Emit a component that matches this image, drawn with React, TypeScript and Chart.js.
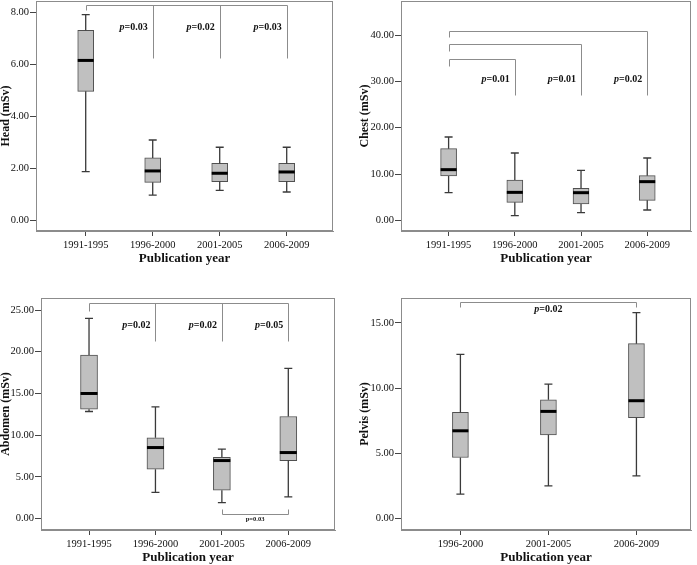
import React, { useEffect, useRef } from "react";
import { Chart, registerables } from "chart.js";

Chart.register(...registerables);

const FONT = "'Liberation Serif', 'Times New Roman', serif";

// ---------- Head ----------
const headCategories = ["1991-1995", "1996-2000", "2001-2005", "2006-2009"];
const headLow = [1.87, 0.97, 1.15, 1.09];
const headQ1 = [4.96, 1.46, 1.49, 1.49];
const headMedian = [6.15, 1.9, 1.81, 1.86];
const headQ3 = [7.31, 2.4, 2.19, 2.19];
const headHigh = [7.91, 3.09, 2.81, 2.81];
const headTicks = [0, 2, 4, 6, 8];
const headSegments: number[][] = [
  [0, 8.28, 3, 8.28],
  [0, 8.28, 0, 8.1],
  [1, 8.28, 1, 6.26],
  [2, 8.28, 2, 6.26],
  [3, 8.28, 3, 6.26],
];
const headPAt = [1, 2, 3];
const headPValues = ["0.03", "0.02", "0.03"];
const headPLevel = 7.41;

// ---------- Chest ----------
const chestCategories = ["1991-1995", "1996-2000", "2001-2005", "2006-2009"];
const chestLow = [5.97, 1.0, 1.65, 2.23];
const chestQ1 = [9.57, 3.88, 3.53, 4.32];
const chestMedian = [10.94, 6.04, 5.97, 8.35];
const chestQ3 = [15.47, 8.71, 6.91, 9.64];
const chestHigh = [17.99, 14.53, 10.79, 13.45];
const chestTicks = [0, 10, 20, 30, 40];
const chestSegments: number[][] = [
  [0, 34.75, 1, 34.75],
  [0, 34.75, 0, 33.35],
  [1, 34.75, 1, 27.05],
  [0, 38.0, 2, 38.0],
  [0, 38.0, 0, 36.6],
  [2, 38.0, 2, 27.05],
  [0, 40.9, 3, 40.9],
  [0, 40.9, 0, 39.5],
  [3, 40.9, 3, 27.05],
];
const chestPAt = [1, 2, 3];
const chestPValues = ["0.01", "0.01", "0.02"];
const chestPLevel = 30.5;

// ---------- Abdomen ----------
const abdomenCategories = ["1991-1995", "1996-2000", "2001-2005", "2006-2009"];
const abdomenLow = [12.84, 3.16, 1.92, 2.6];
const abdomenQ1 = [13.12, 5.92, 3.4, 6.96];
const abdomenMedian = [15.0, 8.52, 6.96, 7.92];
const abdomenQ3 = [19.6, 9.68, 7.36, 12.24];
const abdomenHigh = [24.0, 13.4, 8.32, 18.0];
const abdomenTicks = [0, 5, 10, 15, 20, 25];
const abdomenSegments: number[][] = [
  [0, 25.84, 3, 25.84],
  [0, 25.84, 0, 24.84],
  [1, 25.84, 1, 21.32],
  [2, 25.84, 2, 21.32],
  [3, 25.84, 3, 21.32],
  [2, 0.6, 3, 0.6],
  [2, 0.6, 2, 1.2],
  [3, 0.6, 3, 1.2],
];
const abdomenPAt = [1, 2, 3];
const abdomenPValues = ["0.02", "0.02", "0.05"];
const abdomenPLevel = 23.17;
const abdomenSmallLabel = { x: 2.5, y: -0.07, text: "p=0.03" };

// ---------- Pelvis ----------
const pelvisCategories = ["1996-2000", "2001-2005", "2006-2009"];
const pelvisLow = [1.85, 2.49, 3.26];
const pelvisQ1 = [4.67, 6.41, 7.72];
const pelvisMedian = [6.72, 8.21, 9.03];
const pelvisQ3 = [8.13, 9.1, 13.41];
const pelvisHigh = [12.59, 10.31, 15.79];
const pelvisTicks = [0, 5, 10, 15];
const pelvisSegments: number[][] = [
  [0, 16.64, 2, 16.64],
  [0, 16.64, 0, 16.23],
  [2, 16.64, 2, 16.23],
];
const pelvisPCenterAt = 1;
const pelvisPValue = "0.02";
const pelvisPLevel = 16.02;

function drawPLabel(ctx: CanvasRenderingContext2D, x: number, y: number, value: string, align: string, size: number) {
  const it = `italic bold ${size}px ${FONT}`;
  const bd = `bold ${size}px ${FONT}`;
  ctx.font = it;
  const wp = ctx.measureText("p").width;
  ctx.font = bd;
  const rest = "=" + value;
  const wr = ctx.measureText(rest).width;
  const total = wp + wr;
  const sx = align === "right" ? x - total : x - total / 2;
  ctx.textBaseline = "middle";
  ctx.textAlign = "left";
  ctx.fillStyle = "#111";
  ctx.font = it;
  ctx.fillText("p", sx, y);
  ctx.font = bd;
  ctx.fillText(rest, sx + wp, y);
}

type PanelProps = {
  left: number;
  top: number;
  width: number;
  height: number;
  yAxisWidth: number;
  padRight: number;
  padTop: number;
  yTitlePad: number;
  boxWidth: number;
  xMin: number;
  xMax: number;
  yMin: number;
  yMax: number;
  yTitle: string;
  categories: string[];
  low: number[];
  q1: number[];
  median: number[];
  q3: number[];
  high: number[];
  yTicks: number[];
  segments: number[][];
  pAt: number[];
  pValues: string[];
  pLevel: number;
  pAlign: string;
  smallLabel?: { x: number; y: number; text: string };
};

function BoxPanel(p: PanelProps) {
  const ref = useRef<HTMLCanvasElement>(null);
  useEffect(() => {
    const canvas = ref.current!;
    const framePlugin = {
      id: "frame",
      afterDraw(chart: any) {
        const { ctx, chartArea } = chart;
        ctx.save();
        ctx.strokeStyle = "#8c8c8c";
        ctx.lineWidth = 1;
        const l = Math.round(chartArea.left) + 0.5;
        const t = Math.round(chartArea.top) + 0.5;
        const r = Math.round(chartArea.right) - 0.5;
        const b = Math.round(chartArea.bottom) - 0.5;
        ctx.strokeRect(l, t, r - l, b - t);
        ctx.restore();
      },
    };
    const boxPlugin = {
      id: "boxWhiskers",
      afterDatasetsDraw(chart: any) {
        const ctx: CanvasRenderingContext2D = chart.ctx;
        const xs = chart.scales.x;
        const ys = chart.scales.y;
        ctx.save();
        // brackets
        ctx.strokeStyle = "#8c8c8c";
        ctx.lineWidth = 1;
        p.segments.forEach((s) => {
          ctx.beginPath();
          ctx.moveTo(Math.round(xs.getPixelForValue(s[0])) + 0.5, Math.round(ys.getPixelForValue(s[1])) + 0.5);
          ctx.lineTo(Math.round(xs.getPixelForValue(s[2])) + 0.5, Math.round(ys.getPixelForValue(s[3])) + 0.5);
          ctx.stroke();
        });
        // whiskers
        ctx.strokeStyle = "#3a3a3a";
        ctx.lineWidth = 1.3;
        const half = p.boxWidth / 2;
        p.categories.forEach((_, i) => {
          const x = xs.getPixelForValue(i);
          const yl = ys.getPixelForValue(p.low[i]);
          const yq1 = ys.getPixelForValue(p.q1[i]);
          const yq3 = ys.getPixelForValue(p.q3[i]);
          const yh = ys.getPixelForValue(p.high[i]);
          ctx.beginPath();
          ctx.moveTo(x, yh);
          ctx.lineTo(x, yq3);
          ctx.moveTo(x, yq1);
          ctx.lineTo(x, yl);
          ctx.moveTo(x - 4, yh);
          ctx.lineTo(x + 4, yh);
          ctx.moveTo(x - 4, yl);
          ctx.lineTo(x + 4, yl);
          ctx.stroke();
        });
        // medians
        ctx.strokeStyle = "#000";
        ctx.lineWidth = 3;
        p.categories.forEach((_, i) => {
          const x = xs.getPixelForValue(i);
          const ym = ys.getPixelForValue(p.median[i]);
          ctx.beginPath();
          ctx.moveTo(x - half, ym);
          ctx.lineTo(x + half, ym);
          ctx.stroke();
        });
        // p labels
        p.pAt.forEach((at, k) => {
          const x = xs.getPixelForValue(at);
          const y = ys.getPixelForValue(p.pLevel);
          drawPLabel(ctx, p.pAlign === "right" ? x - 5 : x, y, p.pValues[k], p.pAlign, 10);
        });
        if (p.smallLabel) {
          ctx.font = `bold 6.5px ${FONT}`;
          ctx.fillStyle = "#111";
          ctx.textAlign = "center";
          ctx.textBaseline = "middle";
          ctx.fillText(p.smallLabel.text, xs.getPixelForValue(p.smallLabel.x), ys.getPixelForValue(p.smallLabel.y));
        }
        ctx.restore();
      },
    };
    const chart = new Chart(canvas, {
      type: "bar",
      data: {
        datasets: [
          {
            data: p.categories.map((_, i) => ({ x: i, y: [p.q1[i], p.q3[i]] })) as any,
            backgroundColor: "#c0c0c0",
            borderColor: "#505050",
            borderWidth: 1,
            borderSkipped: false,
            barThickness: p.boxWidth,
          },
        ],
      },
      options: {
        responsive: false,
        animation: false,
        layout: { padding: { left: 0, right: p.padRight, top: p.padTop, bottom: 0 } },
        plugins: { legend: { display: false }, tooltip: { enabled: false } },
        scales: {
          x: {
            type: "linear",
            min: p.xMin,
            max: p.xMax,
            offset: false,
            afterBuildTicks: (s: any) => {
              s.ticks = p.categories.map((_, i) => ({ value: i }));
            },
            afterFit: (s: any) => {
              s.height = 35;
              s.paddingLeft = 0;
              s.paddingRight = 0;
            },
            ticks: {
              callback: (v: any) => p.categories[Math.round(Number(v))] ?? "",
              font: { family: FONT, size: 10.5 },
              color: "#111",
              padding: 3,
              maxRotation: 0,
              autoSkip: false,
            },
            grid: { display: true, drawOnChartArea: false, drawTicks: true, tickLength: 5, color: "#444", offset: false },
            border: { display: true, color: "#8c8c8c" },
            title: {
              display: true,
              text: "Publication year",
              font: { family: FONT, size: 13, weight: "bold", lineHeight: 1 },
              color: "#111",
              padding: { top: 0, bottom: 0.5 },
            },
          },
          y: {
            type: "linear",
            min: p.yMin,
            max: p.yMax,
            afterBuildTicks: (s: any) => {
              s.ticks = p.yTicks.map((v) => ({ value: v }));
            },
            afterFit: (s: any) => {
              s.width = p.yAxisWidth;
              s.paddingTop = 0;
              s.paddingBottom = 0;
            },
            ticks: {
              callback: (v: any) => Number(v).toFixed(2),
              font: { family: FONT, size: 10.5 },
              color: "#111",
              padding: 1,
            },
            grid: { display: true, drawOnChartArea: false, drawTicks: true, tickLength: 6, color: "#444" },
            border: { display: true, color: "#8c8c8c" },
            title: {
              display: true,
              text: p.yTitle,
              font: { family: FONT, size: 12, weight: "bold", lineHeight: 1 },
              color: "#111",
              padding: { top: p.yTitlePad, bottom: 0 },
            },
          },
        },
      } as any,
      plugins: [framePlugin, boxPlugin],
    });
    return () => chart.destroy();
  }, []);
  return (
    <canvas
      ref={ref}
      width={p.width}
      height={p.height}
      style={{ position: "absolute", left: p.left, top: p.top, width: p.width, height: p.height, display: "block" }}
    />
  );
}

export default function App() {
  return (
    <div style={{ position: "absolute", left: 0, top: 0, width: 697, height: 565, background: "#fff" }}>
      <BoxPanel
        left={0}
        top={0}
        width={345}
        height={266}
        yAxisWidth={36}
        padRight={12}
        padTop={1}
        yTitlePad={0}
        boxWidth={16}
        xMin={-0.742}
        xMax={3.691}
        yMin={-0.41}
        yMax={8.435}
        yTitle="Head (mSv)"
        categories={headCategories}
        low={headLow}
        q1={headQ1}
        median={headMedian}
        q3={headQ3}
        high={headHigh}
        yTicks={headTicks}
        segments={headSegments}
        pAt={headPAt}
        pValues={headPValues}
        pLevel={headPLevel}
        pAlign="right"
      />
      <BoxPanel
        left={348}
        top={0}
        width={349}
        height={266}
        yAxisWidth={53}
        padRight={6}
        padTop={1}
        yTitlePad={11}
        boxWidth={16}
        xMin={-0.719}
        xMax={3.661}
        yMin={-2.3}
        yMax={47.34}
        yTitle="Chest (mSv)"
        categories={chestCategories}
        low={chestLow}
        q1={chestQ1}
        median={chestMedian}
        q3={chestQ3}
        high={chestHigh}
        yTicks={chestTicks}
        segments={chestSegments}
        pAt={chestPAt}
        pValues={chestPValues}
        pLevel={chestPLevel}
        pAlign="right"
      />
      <BoxPanel
        left={0}
        top={280}
        width={345}
        height={285}
        yAxisWidth={41}
        padRight={10}
        padTop={18}
        yTitlePad={0}
        boxWidth={17}
        xMin={-0.723}
        xMax={3.703}
        yMin={-1.36}
        yMax={26.44}
        yTitle="Abdomen (mSv)"
        categories={abdomenCategories}
        low={abdomenLow}
        q1={abdomenQ1}
        median={abdomenMedian}
        q3={abdomenQ3}
        high={abdomenHigh}
        yTicks={abdomenTicks}
        segments={abdomenSegments}
        pAt={abdomenPAt}
        pValues={abdomenPValues}
        pLevel={abdomenPLevel}
        pAlign="right"
        smallLabel={abdomenSmallLabel}
      />
      <BoxPanel
        left={348}
        top={280}
        width={349}
        height={285}
        yAxisWidth={53}
        padRight={6}
        padTop={18}
        yTitlePad={11}
        boxWidth={16}
        xMin={-0.675}
        xMax={2.62}
        yMin={-0.9}
        yMax={16.92}
        yTitle="Pelvis (mSv)"
        categories={pelvisCategories}
        low={pelvisLow}
        q1={pelvisQ1}
        median={pelvisMedian}
        q3={pelvisQ3}
        high={pelvisHigh}
        yTicks={pelvisTicks}
        segments={pelvisSegments}
        pAt={[pelvisPCenterAt]}
        pValues={[pelvisPValue]}
        pLevel={pelvisPLevel}
        pAlign="center"
      />
    </div>
  );
}
